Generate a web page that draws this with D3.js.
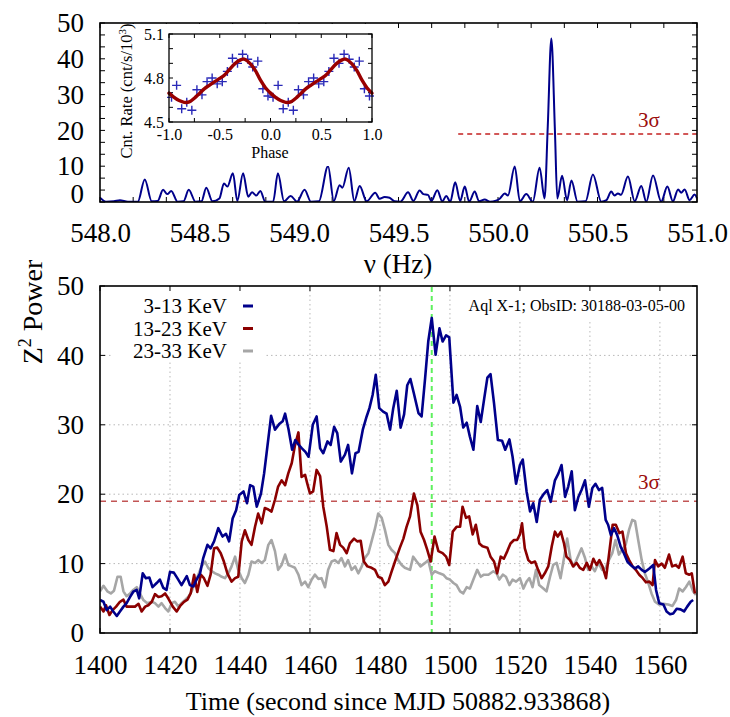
<!DOCTYPE html>
<html lang="en">
<head>
<meta charset="UTF-8">
<title>Z2 power</title>
<style>
  body { margin: 0; background: #fff; }
  svg text { font-family: "Liberation Serif", "Times New Roman", serif; }
  .domain { display: none; }
  .grid line { stroke: #b8b8b8; stroke-width: 1; stroke-dasharray: 1.5,3; }
</style>
</head>
<body>
<script src="https://d3js.org/d3.v7.min.js"></script>
<script>
// --- top panel: Z^2 periodogram (freq Hz, power)
const spectrum = [
  [548.00,1.2],[548.03,0.1],[548.07,0.2],[548.10,0.5],[548.14,0.1],[548.19,0.1],[548.225,6.3],[548.26,0.2],
  [548.29,0.3],[548.317,3.4],[548.338,2.2],[548.358,3.1],[548.39,0.1],[548.42,0.2],[548.446,3.4],[548.48,0.1],
  [548.51,0.2],[548.534,4.0],[548.565,0.2],[548.60,1.0],[548.623,5.2],[548.64,4.3],[548.668,8.0],[548.69,0.3],
  [548.719,8.0],[548.745,1.5],[548.764,2.7],[548.785,1.8],[548.806,3.1],[548.83,0.1],[548.87,0.1],[548.894,8.0],
  [548.925,0.2],[548.958,1.7],[548.99,0.1],[549.028,3.4],[549.06,0.1],[549.10,0.2],[549.146,10.0],[549.175,0.3],
  [549.204,4.7],[549.218,4.0],[549.25,9.6],[549.278,0.3],[549.305,4.5],[549.34,0.2],[549.383,2.6],[549.405,0.9],
  [549.43,1.4],[549.455,1.2],[549.48,0.2],[549.51,0.1],[549.548,2.7],[549.575,0.3],[549.606,3.2],[549.625,2.2],
  [549.648,2.0],[549.665,0.3],[549.695,3.3],[549.72,0.2],[549.74,1.7],[549.76,0.1],[549.785,5.5],[549.81,0.3],
  [549.833,4.3],[549.855,0.1],[549.883,2.9],[549.905,0.2],[549.933,0.7],[549.96,0.1],[549.99,0.4],[550.01,1.0],
  [550.034,2.4],[550.05,1.8],[550.084,9.9],[550.11,0.2],[550.142,2.2],[550.175,0.1],[550.209,9.6],[550.234,1.0],
  [550.25,21],[550.268,45.7],[550.286,20],[550.298,1.0],[550.322,7.3],[550.347,0.5],[550.369,6.0],[550.40,0.1],
  [550.44,0.2],[550.477,7.7],[550.519,0.1],[550.545,0.5],[550.569,2.9],[550.585,1.8],[550.603,2.4],[550.618,2.0],
  [550.653,7.1],[550.687,0.2],[550.72,4.5],[550.745,0.1],[550.779,7.4],[550.82,0.1],[550.851,4.3],[550.879,0.2],
  [550.905,3.5],[550.92,2.6],[550.938,3.5],[550.963,0.5],[550.988,2.1],[551.0,1.0]
];
const sigma3 = 19;

// --- inset: folded light curve (phase bins of one cycle, count rate /1e3)
const phaseBins = [0.025,0.075,0.125,0.175,0.225,0.275,0.325,0.375,0.425,0.475,
                   0.525,0.575,0.625,0.675,0.725,0.775,0.825,0.875,0.925,0.975];
const rates = [4.668,4.750,4.590,4.635,4.580,4.720,4.685,4.775,4.800,4.760,
               4.775,4.845,4.935,4.900,4.962,4.928,4.875,4.915,4.727,4.677];
const fitPhase = [0.00,0.05,0.10,0.15,0.20,0.25,0.30,0.35,0.40,0.45,0.50,0.55,
                  0.60,0.65,0.70,0.73,0.75,0.80,0.85,0.90,0.95,1.00];
const fitRate = [4.697,4.668,4.646,4.634,4.637,4.662,4.695,4.728,4.752,4.775,4.797,4.822,
                 4.862,4.898,4.922,4.929,4.926,4.898,4.852,4.787,4.734,4.697];

// --- bottom panel: Z^2 power vs time, three energy bands
const band1 = [ // 3-13 KeV
  [1400,4.75],[1401,4.5],[1401.9,3.3],[1402.9,3.8],[1403.8,3.1],[1404.8,2.45],[1405.7,3.1],[1406.7,3.8],
  [1407.6,4.3],[1408.6,5.2],[1409.5,5.95],[1410.5,6.2],[1411.2,5.0],[1412.2,8.6],[1413.1,7.9],[1414.1,8.0],
  [1415,6.6],[1416.2,7.2],[1417.1,7.7],[1418.1,6.5],[1419,6.2],[1420,8.8],[1421.1,8.7],[1422.1,7.9],
  [1423.3,6.9],[1424.8,8.2],[1425.7,6.9],[1426.7,6.7],[1427.6,7.7],[1428.6,8.6],[1429.5,10.8],[1430.7,12.7],
  [1431.6,12.2],[1432.6,13.2],[1433.8,15.1],[1435,13.9],[1436,14.3],[1436.9,13.2],[1437.9,16.5],[1438.9,17.7],
  [1439.8,19.9],[1441,20.4],[1442,18.7],[1442.9,21.3],[1443.8,21.1],[1444.8,18.2],[1446,20.1],[1446.9,23.0],
  [1447.6,25.9],[1448.9,31.3],[1450,29.3],[1451.2,30.1],[1452.2,30.5],[1452.9,31.6],[1453.9,29.3],[1454.9,26.4],
  [1455.8,27.8],[1456.8,27.1],[1457.7,26.6],[1458.7,26.1],[1459.6,25.4],[1460.8,30.0],[1461.9,31.2],[1462.9,26.6],
  [1463.8,25.9],[1465,27.6],[1465.9,27.1],[1466.9,29.7],[1467.8,28.8],[1468.8,24.7],[1470,25.7],[1470.9,27.1],
  [1472,23.0],[1473,25.9],[1473.9,26.1],[1475.1,29.3],[1476.2,31.2],[1477,32.4],[1477.9,34.3],[1478.8,37.2],
  [1479.8,32.4],[1480.9,31.9],[1481.9,31.6],[1482.9,29.3],[1483.8,32.4],[1484.8,34.9],[1485.9,29.6],[1486.9,31.5],
  [1487.8,35.7],[1488.7,36.6],[1489.7,34.5],[1491,31.7],[1491.9,31.2],[1492.9,36.7],[1493.8,42.0],[1494.8,45.4],
  [1495.9,40.1],[1497,43.9],[1497.9,42.0],[1498.9,42.9],[1499.8,42.6],[1501,33.2],[1501.9,34.3],[1502.9,32.6],
  [1503.8,29.6],[1504.8,30.3],[1505.7,28.3],[1506.7,26.4],[1507.8,32.7],[1508.8,30.4],[1509.8,33.8],[1510.7,36.8],
  [1511.6,37.3],[1512.6,33.1],[1513.7,27.8],[1514.9,27.7],[1515.8,26.4],[1517,27.9],[1517.9,25.4],[1518.9,21.5],
  [1520,24.2],[1520.8,25.0],[1521.9,20.4],[1522.9,17.5],[1523.8,18.7],[1524.8,16.0],[1525.7,19.2],[1526.9,20.1],
  [1527.8,20.6],[1528.8,18.9],[1530,22.0],[1531,23.0],[1531.9,24.2],[1532.9,19.6],[1533.8,21.1],[1534.8,23.3],
  [1535.7,17.7],[1536.7,19.6],[1537.6,20.6],[1538.6,22.0],[1539.7,18.2],[1540.7,20.9],[1541.6,21.5],[1542.6,20.6],
  [1543.5,20.9],[1544.5,16.3],[1545.2,15.6],[1546,14.1],[1546.9,15.1],[1547.8,14.1],[1548.8,12.4],[1549.7,11.5],
  [1550.7,10.3],[1551.6,9.8],[1552.9,9.3],[1553.8,9.6],[1554.8,9.1],[1555.7,8.8],[1557,9.3],[1558.1,9.8],
  [1558.9,6.2],[1559.8,4.3],[1561,4.1],[1561.9,3.1],[1562.9,2.7],[1563.8,2.8],[1564.8,3.5],[1565.9,3.4],
  [1566.9,3.1],[1567.8,3.8],[1568.8,4.5],[1569.5,4.75]
];
const band2 = [ // 13-23 KeV
  [1400,3.8],[1401,3.1],[1401.7,4.0],[1402.7,2.6],[1403.6,3.3],[1404.6,3.8],[1405.7,4.5],[1406.7,4.8],
  [1407.6,3.8],[1408.6,3.8],[1410,3.8],[1411,4.2],[1411.9,3.1],[1412.9,3.8],[1413.8,4.0],[1414.8,4.5],
  [1415.7,5.6],[1416.7,5.2],[1417.6,5.3],[1418.6,5.7],[1419.5,5.0],[1420.8,3.8],[1421.9,3.1],[1422.9,3.9],
  [1424,4.5],[1425,4.8],[1425.9,5.7],[1426.9,8.4],[1427.8,5.9],[1428.8,8.4],[1429.7,7.9],[1430.7,6.8],
  [1431.6,8.4],[1432.6,12.2],[1433.5,12.3],[1434.5,11.5],[1435.4,10.3],[1436.4,8.6],[1437.6,7.4],[1438.6,7.9],
  [1439.5,8.1],[1440.5,13.2],[1441.4,14.8],[1442.4,13.4],[1443.3,12.7],[1444.3,15.3],[1445.2,17.2],[1446.2,15.8],
  [1447.1,18.0],[1448.1,17.8],[1449,17.5],[1450,19.2],[1450.9,21.1],[1451.9,22.0],[1452.9,21.3],[1453.8,23.0],
  [1454.8,24.5],[1455.7,27.0],[1456.7,28.9],[1457.6,22.5],[1458.6,22.8],[1459.2,21.6],[1460,20.1],[1460.9,20.4],
  [1461.9,23.5],[1462.9,22.6],[1463.8,18.2],[1464.8,15.3],[1465.7,12.0],[1466.7,11.8],[1467.6,14.4],[1468.6,12.7],
  [1469.5,12.3],[1470.5,11.5],[1471.4,12.9],[1472.6,13.6],[1473.5,13.2],[1474.5,13.3],[1475.4,10.3],[1476.4,9.6],
  [1477.6,9.4],[1478.6,9.1],[1479.5,8.1],[1480.5,7.9],[1481.4,6.9],[1482.4,7.4],[1483.3,8.8],[1484.3,10.3],
  [1485.7,12.3],[1486.7,13.6],[1487.6,15.3],[1488.6,16.8],[1489.7,20.1],[1490.7,18.4],[1491.6,14.6],[1492.6,13.4],
  [1493.5,12.0],[1494.5,10.3],[1495.6,13.9],[1496.7,11.8],[1497.9,11.5],[1498.9,11.0],[1499.8,9.8],[1500.8,14.6],
  [1501.9,15.3],[1502.9,15.3],[1503.6,18.2],[1504.6,16.6],[1505.5,16.8],[1506.5,14.2],[1507.4,15.6],[1508.4,12.9],
  [1509.3,12.5],[1510.7,12.3],[1511.6,11.0],[1512.6,10.3],[1513.5,8.6],[1514.5,11.0],[1515.4,10.7],[1516.4,11.8],
  [1517.3,12.9],[1518.3,13.4],[1519.2,13.4],[1520,14.2],[1520.6,15.8],[1521.4,12.2],[1522.4,10.5],[1523.3,10.1],
  [1524.3,10.3],[1525.2,9.1],[1526.2,7.9],[1527.1,8.6],[1528.1,9.6],[1529.1,12.5],[1530,14.6],[1530.8,13.9],
  [1531.7,14.6],[1532.6,12.9],[1533.3,11.0],[1534.3,10.5],[1535.2,9.6],[1536.2,10.1],[1537.1,9.4],[1538.1,9.1],
  [1539.1,10.1],[1540,9.1],[1541,10.7],[1541.9,9.8],[1542.7,10.5],[1543.6,9.6],[1544.6,7.9],[1545.5,11.5],
  [1546.5,15.6],[1547.4,15.6],[1548.4,14.4],[1549.3,14.6],[1550.3,11.5],[1551.2,10.5],[1552.2,9.6],[1553.1,9.1],
  [1554.1,8.4],[1555.1,7.9],[1556,7.3],[1557,7.4],[1557.9,6.9],[1558.6,10.5],[1559.5,9.6],[1560.5,10.0],
  [1561.4,9.4],[1562.6,11.3],[1563.5,9.6],[1564.5,9.8],[1565.4,9.4],[1566.5,11.0],[1567.4,8.6],[1568.4,8.4],
  [1569.1,8.6],[1570,5.7]
];
const band3 = [ // 23-33 KeV
  [1400,6.0],[1401,6.8],[1402.1,6.0],[1403.1,5.7],[1404,6.1],[1405,8.1],[1405.9,8.1],[1406.7,6.0],
  [1407.6,5.3],[1408.6,5.7],[1409.5,6.2],[1410.5,6.6],[1411.4,5.7],[1412.4,4.75],[1413.5,4.3],[1414.8,4.5],
  [1415.7,4.3],[1416.7,3.8],[1417.6,4.3],[1418.6,3.6],[1419.5,3.1],[1420.5,4.3],[1421.4,4.5],[1422.4,3.8],
  [1423.3,4.3],[1424.3,4.75],[1425.2,5.2],[1426.2,6.0],[1427.1,7.2],[1428.1,8.4],[1429,9.6],[1430,10.3],
  [1430.9,9.4],[1431.9,8.9],[1432.9,8.6],[1433.8,8.4],[1434.8,8.1],[1435.7,7.9],[1436.7,8.6],[1437.6,9.6],
  [1438.6,11.0],[1439.5,9.1],[1440.5,7.9],[1441.4,7.2],[1442.4,8.4],[1443.3,10.3],[1444.3,10.1],[1445.2,10.5],
  [1446.2,10.1],[1447.1,10.5],[1448.1,12.7],[1449,13.4],[1450,11.8],[1450.9,9.1],[1451.9,9.8],[1452.9,11.3],
  [1453.8,9.8],[1454.8,9.6],[1455.7,9.4],[1456.7,8.4],[1457.6,6.9],[1458.6,7.4],[1459.5,6.6],[1460.5,7.7],
  [1461.4,8.4],[1462.4,7.8],[1463.3,7.9],[1464.3,6.6],[1465.2,9.1],[1466.2,10.3],[1467.1,10.5],[1468.1,10.1],
  [1469,10.8],[1470,9.6],[1470.9,10.5],[1471.9,9.1],[1472.9,9.6],[1473.8,8.6],[1474.8,9.6],[1475.7,10.8],
  [1476.7,11.5],[1477.6,13.2],[1478.6,15.1],[1479.5,17.2],[1480.5,16.6],[1481.4,14.9],[1482.4,12.7],[1483.3,12.0],
  [1484.3,11.5],[1485.2,10.5],[1486.2,9.8],[1487.1,9.4],[1488.6,9.1],[1489.5,11.0],[1490.5,10.3],[1491.6,9.6],
  [1492.9,10.1],[1493.8,10.5],[1494.8,8.4],[1495.7,8.9],[1497,8.6],[1498.1,8.4],[1499,7.9],[1500,7.7],
  [1501,7.2],[1501.9,6.9],[1502.9,6.0],[1503.8,5.7],[1504.8,6.6],[1505.7,6.4],[1506.7,7.7],[1507.8,9.1],
  [1508.8,8.1],[1509.7,8.4],[1511,8.4],[1512.4,8.9],[1513.3,8.6],[1514.1,7.7],[1515.1,8.4],[1516,8.1],
  [1517,6.9],[1517.9,7.7],[1518.9,7.4],[1520,7.9],[1521,6.4],[1521.9,7.4],[1522.7,7.9],[1523.6,6.6],
  [1524.6,9.1],[1525.5,6.9],[1526.7,6.4],[1527.6,6.0],[1528.6,8.1],[1529.5,9.8],[1530.5,10.1],[1531.6,7.9],
  [1532.6,10.8],[1533.5,13.6],[1534.5,10.5],[1535.4,9.6],[1536.4,10.8],[1537.6,12.2],[1538.6,10.8],[1539.5,9.1],
  [1540.5,9.6],[1541.4,8.9],[1542.4,10.1],[1543.5,9.1],[1544.5,9.4],[1545.4,10.5],[1546.4,11.5],[1547.3,13.4],
  [1548.3,11.3],[1549.2,12.0],[1550.2,12.7],[1551.2,14.9],[1552.1,16.3],[1552.9,16.1],[1553.8,13.4],[1554.8,10.5],
  [1555.7,8.6],[1556.7,7.2],[1557.6,5.7],[1558.6,4.5],[1559.8,4.1],[1561,4.2],[1562.4,4.1],[1563.6,3.9],
  [1564.6,4.75],[1565.5,6.4],[1566.5,6.0],[1567.4,6.6],[1568.4,7.4],[1569.5,6.0],[1570.3,5.5]
];
const bandNames = ["3-13 KeV", "13-23 KeV", "23-33 KeV"];
const bandColors = ["#00008b", "#8b0000", "#a6a6a6"];
const peakTime = 1494.8;
const powerTicks = [0, 10, 20, 30, 40, 50];
const freqTicks = [548, 548.5, 549, 549.5, 550, 550.5, 551];
const timeTicks = [1400, 1420, 1440, 1460, 1480, 1500, 1520, 1540, 1560];

const W = 730, H = 717;
const svg = d3.select("body").append("svg").attr("width", W).attr("height", H);

// inward tick marks on all four sides of a frame
function frameTicks(g, x, y, xv, yv, len) {
  const [x0, x1] = x.range(), [y0, y1] = y.range();
  const t = g.append("g").attr("stroke", "#000").attr("stroke-width", 1);
  xv.forEach(v => {
    t.append("line").attr("x1", x(v)).attr("x2", x(v)).attr("y1", y0).attr("y2", y0 - len);
    t.append("line").attr("x1", x(v)).attr("x2", x(v)).attr("y1", y1).attr("y2", y1 + len);
  });
  yv.forEach(v => {
    t.append("line").attr("y1", y(v)).attr("y2", y(v)).attr("x1", x0).attr("x2", x0 + len);
    t.append("line").attr("y1", y(v)).attr("y2", y(v)).attr("x1", x1).attr("x2", x1 - len);
  });
}
function frame(g, x, y, w) {
  g.append("rect")
    .attr("x", x.range()[0]).attr("y", y.range()[1])
    .attr("width", x.range()[1] - x.range()[0]).attr("height", y.range()[0] - y.range()[1])
    .attr("fill", "none").attr("stroke", "#000").attr("stroke-width", w);
}

// ================= top panel
const xF = d3.scaleLinear().domain([548, 551]).range([100, 697]);
const yF = d3.scaleLinear().domain([0, 50]).range([202, 23]);
const topPanel = svg.append("g");
topPanel.append("defs").append("clipPath").attr("id", "clipTop")
  .append("rect").attr("x", 100).attr("y", 23).attr("width", 597).attr("height", 179);

frameTicks(topPanel, xF, yF, d3.range(548, 551.001, 0.5 / 3), d3.range(0, 50.001, 10 / 3), 5);

topPanel.append("g").attr("transform", "translate(0,202)")
  .call(d3.axisBottom(xF).tickValues(freqTicks).tickSize(0).tickPadding(21).tickFormat(d3.format(".1f")))
  .call(g => g.selectAll("text").attr("font-size", 27));
topPanel.append("g").attr("transform", "translate(100,0)")
  .call(d3.axisLeft(yF).tickValues(powerTicks).tickSize(0).tickPadding(16))
  .call(g => g.selectAll("text").attr("font-size", 27)
    .attr("dy", d => d === 0 ? "0.02em" : "0.32em"));
topPanel.append("text").attr("x", 398).attr("y", 273).attr("text-anchor", "middle")
  .attr("font-size", 27).text("ν (Hz)");

topPanel.append("line").attr("x1", xF(549.8)).attr("x2", 697)
  .attr("y1", yF(sigma3)).attr("y2", yF(sigma3))
  .attr("stroke", "#c42020").attr("stroke-width", 1.3).attr("stroke-dasharray", "5,4");
topPanel.append("text").attr("x", 638).attr("y", 127).attr("font-size", 21).attr("fill", "#9b0d0d").text("3σ");

topPanel.append("path").datum(spectrum)
  .attr("clip-path", "url(#clipTop)")
  .attr("fill", "none").attr("stroke", "#00008b").attr("stroke-width", 2)
  .attr("d", d3.line().x(d => xF(d[0])).y(d => yF(d[1])).curve(d3.curveMonotoneX));
frame(topPanel, xF, yF, 1.6);

// ---- inset
const xI = d3.scaleLinear().domain([-1, 1]).range([169, 372]);
const yI = d3.scaleLinear().domain([4.5, 5.1]).range([122, 34]);
const inset = svg.append("g");
inset.append("rect").attr("x", 108).attr("y", 24).attr("width", 272).attr("height", 142).attr("fill", "#fff");
frameTicks(inset, xI, yI, d3.range(-1, 1.001, 0.25), d3.range(4.5, 5.101, 0.1), 4);
inset.append("g").attr("transform", "translate(0,122)")
  .call(d3.axisBottom(xI).tickValues([-1, -0.5, 0, 0.5, 1]).tickSize(0).tickPadding(7))
  .call(g => g.selectAll("text").attr("font-size", 16).text(d => d3.format(".1f")(d).replace("−", "-")));
inset.append("g").attr("transform", "translate(169,0)")
  .call(d3.axisLeft(yI).tickValues([4.5, 4.8, 5.1]).tickSize(0).tickPadding(5).tickFormat(d3.format(".1f")))
  .call(g => g.selectAll("text").attr("font-size", 16));
inset.append("text").attr("x", 270).attr("y", 158).attr("text-anchor", "middle").attr("font-size", 16).text("Phase");
const yLab = inset.append("text").attr("transform", "translate(132,91) rotate(-90)")
  .attr("text-anchor", "middle").attr("font-size", 16.5);
yLab.append("tspan").text("Cnt. Rate (cnt/s/10");
yLab.append("tspan").attr("dy", -6).attr("font-size", 11).text("3");
yLab.append("tspan").attr("dy", 6).text(")");

const fold = [-1, 0].flatMap(s => phaseBins.map((p, i) => [p + s, rates[i]]));
inset.append("g").selectAll("path").data(fold).join("path")
  .attr("transform", d => `translate(${xI(d[0])},${yI(d[1])})`)
  .attr("d", "M-4.5,0H4.5M0,-4.5V4.5")
  .attr("stroke", "#2929b8").attr("stroke-width", 1.4);
const fitLine = d3.line().x(d => xI(d[0])).y(d => yI(d[1])).curve(d3.curveCatmullRom);
[-1, 0].forEach(s => {
  inset.append("path").datum(fitPhase.map((p, i) => [p + s, fitRate[i]]))
    .attr("fill", "none").attr("stroke", "#990000").attr("stroke-width", 3.4)
    .attr("stroke-linecap", "round").attr("d", fitLine);
});
frame(inset, xI, yI, 1.3);

// ================= bottom panel
const xT = d3.scaleLinear().domain([1400, 1570.6]).range([100, 697]);
const yP = d3.scaleLinear().domain([0, 50]).range([633, 286]);
const bot = svg.append("g");
bot.append("defs").append("clipPath").attr("id", "clipBot")
  .append("rect").attr("x", 100).attr("y", 286).attr("width", 597).attr("height", 347);

const grid = bot.append("g").attr("class", "grid");
timeTicks.slice(1).forEach(v => grid.append("line")
  .attr("x1", xT(v)).attr("x2", xT(v)).attr("y1", 286).attr("y2", 633));
powerTicks.slice(1, -1).forEach(v => grid.append("line")
  .attr("x1", 100).attr("x2", 697).attr("y1", yP(v)).attr("y2", yP(v)));

// white boxes behind key and label
bot.append("rect").attr("x", 113).attr("y", 287).attr("width", 152).attr("height", 75).attr("fill", "#fff");
bot.append("rect").attr("x", 468).attr("y", 287).attr("width", 224).attr("height", 32).attr("fill", "#fff");

frameTicks(bot, xT, yP, timeTicks, powerTicks, 5);

bot.append("g").attr("transform", "translate(0,633)")
  .call(d3.axisBottom(xT).tickValues(timeTicks).tickSize(0).tickPadding(22).tickFormat(d3.format("d")))
  .call(g => g.selectAll("text").attr("font-size", 27));
bot.append("g").attr("transform", "translate(100,0)")
  .call(d3.axisLeft(yP).tickValues(powerTicks).tickSize(0).tickPadding(16))
  .call(g => g.selectAll("text").attr("font-size", 27));
bot.append("text").attr("x", 398).attr("y", 710).attr("text-anchor", "middle")
  .attr("font-size", 26).text("Time (second since MJD 50882.933868)");

const zLab = svg.append("text").attr("transform", "translate(42,312) rotate(-90)")
  .attr("text-anchor", "middle").attr("font-size", 28);
zLab.append("tspan").text("Z");
zLab.append("tspan").attr("dy", -11).attr("font-size", 18).text("2");
zLab.append("tspan").attr("dy", 11).text(" Power");

bot.append("line").attr("x1", 100).attr("x2", 697).attr("y1", yP(sigma3)).attr("y2", yP(sigma3))
  .attr("stroke", "#c25555").attr("stroke-width", 1.5).attr("stroke-dasharray", "6,5");
bot.append("text").attr("x", 638).attr("y", 489).attr("font-size", 21).attr("fill", "#9b0d0d").text("3σ");

bot.append("line").attr("x1", xT(peakTime)).attr("x2", xT(peakTime)).attr("y1", 287).attr("y2", 633)
  .attr("stroke", "#5ef05e").attr("stroke-width", 2).attr("stroke-dasharray", "5,4");

const line = d3.line().x(d => xT(d[0])).y(d => yP(d[1]));
[band3, band2, band1].forEach((s, i) => {
  bot.append("path").datum(s).attr("clip-path", "url(#clipBot)")
    .attr("fill", "none").attr("stroke", bandColors[2 - i]).attr("stroke-width", 2.6)
    .attr("stroke-linejoin", "round").attr("d", line);
});

const key = bot.append("g");
bandNames.forEach((n, i) => {
  key.append("text").attr("x", 227).attr("y", 313 + i * 22.5).attr("text-anchor", "end")
    .attr("font-size", 21).text(n);
  key.append("line").attr("x1", 243).attr("x2", 253).attr("y1", 306 + i * 22.5).attr("y2", 306 + i * 22.5)
    .attr("stroke", bandColors[i]).attr("stroke-width", 3);
});
bot.append("text").attr("x", 685).attr("y", 311).attr("text-anchor", "end")
  .attr("font-size", 16).text("Aql X-1; ObsID: 30188-03-05-00");

frame(bot, xT, yP, 1.6);
</script>
</body>
</html>
